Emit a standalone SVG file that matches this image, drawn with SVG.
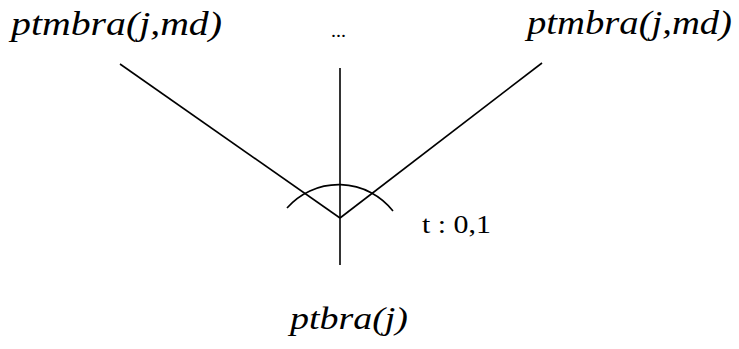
<svg xmlns="http://www.w3.org/2000/svg" width="739" height="349" viewBox="0 0 739 349">
<style>
.ln{stroke:#000;stroke-width:1.6;fill:none}
.lbl{font-family:"Times New Roman","Liberation Serif",Tinos,Times,serif;font-style:italic;fill:#000}
.txt{font-family:"Times New Roman","Liberation Serif",Tinos,Times,serif;fill:#000}
</style>
<rect width="739" height="349" fill="#fff"/>
<g id="connectors">
<line class="ln" x1="120" y1="64" x2="340" y2="218"/>
<line class="ln" x1="542" y1="63" x2="340" y2="218"/>
<line class="ln" x1="340" y1="68" x2="340" y2="265"/>
<path class="ln" d="M287,208 A69,69 0 0 1 393,211"/>
</g>
<g id="node-left"><text class="lbl" x="11" y="35" font-size="34" textLength="211" lengthAdjust="spacingAndGlyphs">ptmbra(j,md)</text></g>
<g id="node-right"><text class="lbl" x="527" y="34" font-size="34" textLength="205" lengthAdjust="spacingAndGlyphs">ptmbra(j,md)</text></g>
<g id="node-middle"><text class="txt" x="331" y="37" font-size="18" textLength="15" lengthAdjust="spacingAndGlyphs">...</text></g>
<g id="node-bottom"><text class="lbl" x="290" y="329" font-size="31" textLength="118" lengthAdjust="spacingAndGlyphs">ptbra(j)</text></g>
<g id="label-t"><text class="txt" x="422" y="233" font-size="26" textLength="69" lengthAdjust="spacingAndGlyphs">t : 0,1</text></g>
</svg>
